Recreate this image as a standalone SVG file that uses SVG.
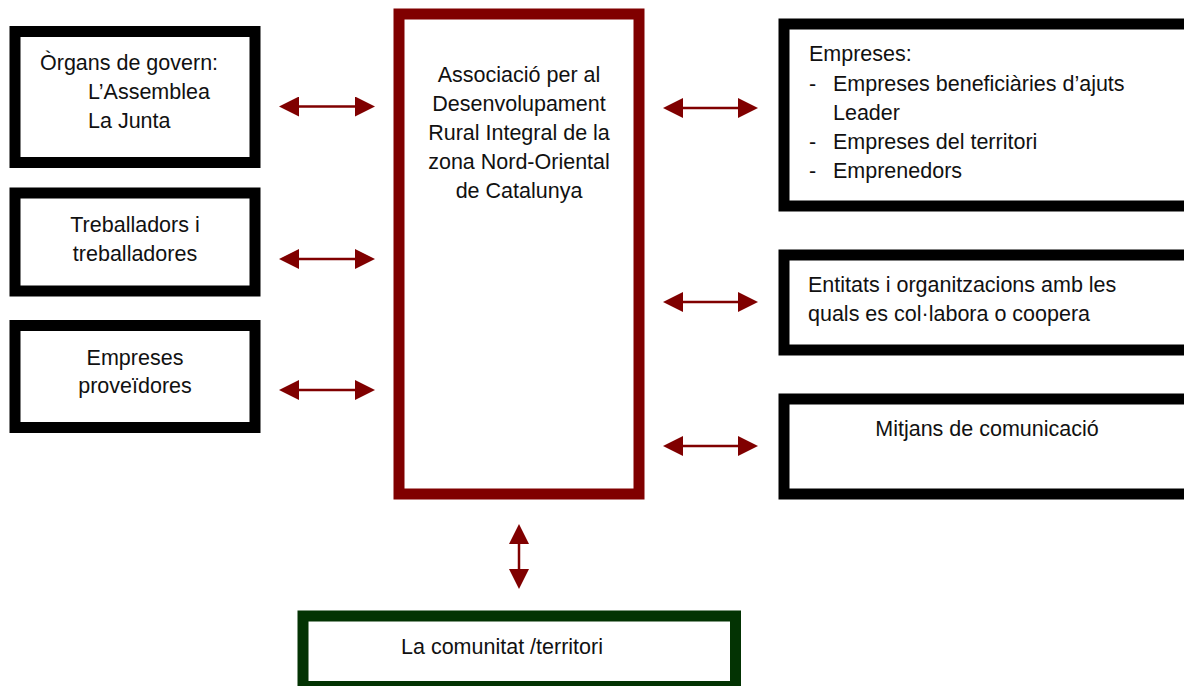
<svg xmlns="http://www.w3.org/2000/svg" width="1184" height="686" viewBox="0 0 1184 686">
<style>
  .box { fill: #ffffff; stroke: #000000; stroke-width: 11; }
  .main { fill: #ffffff; stroke: #800000; stroke-width: 11; }
  .green { fill: #ffffff; stroke: #033303; stroke-width: 11; }
  text { font-family: "Liberation Sans", Arial, sans-serif; font-size: 21.5px; fill: #111111; }
  .c { text-anchor: middle; }
  .arr { stroke: #800000; stroke-width: 2.5; fill: none; marker-start: url(#head); marker-end: url(#head); }
</style>
<defs>
  <marker id="head" markerUnits="userSpaceOnUse" markerWidth="20" markerHeight="20" refX="15" refY="10" orient="auto-start-reverse" viewBox="0 0 20 20">
    <path d="M0,0 L20,10 L0,20 Z" fill="#800000"/>
  </marker>
</defs>
<rect width="1184" height="686" fill="#ffffff"/>

<g id="connectors">
  <line class="arr" x1="284" y1="106.5" x2="370" y2="106.5"/>
  <line class="arr" x1="284" y1="259" x2="370" y2="259"/>
  <line class="arr" x1="284" y1="390" x2="370" y2="390"/>
  <line class="arr" x1="668" y1="108" x2="753" y2="108"/>
  <line class="arr" x1="668" y1="302" x2="753" y2="302"/>
  <line class="arr" x1="668" y1="446" x2="753" y2="446"/>
  <line class="arr" x1="519" y1="529" x2="519" y2="584"/>
</g>

<g id="organs">
  <rect class="box" x="15" y="31.5" width="240" height="131"/>
  <text x="40" y="69.5">Òrgans de govern:</text>
  <text x="88" y="99">L’Assemblea</text>
  <text x="88" y="128">La Junta</text>
</g>

<g id="treballadors">
  <rect class="box" x="15" y="193" width="240" height="98"/>
  <text class="c" x="135" y="231.5">Treballadors i</text>
  <text class="c" x="135" y="261">treballadores</text>
</g>

<g id="proveidores">
  <rect class="box" x="15" y="325.5" width="240" height="102"/>
  <text class="c" x="135" y="364.5">Empreses</text>
  <text class="c" x="135" y="393">proveïdores</text>
</g>

<g id="associacio">
  <rect class="main" x="399" y="14" width="240" height="480"/>
  <text class="c" x="519" y="82">Associació per al</text>
  <text class="c" x="519" y="111">Desenvolupament</text>
  <text class="c" x="519" y="140">Rural Integral de la</text>
  <text class="c" x="519" y="168.5">zona Nord-Oriental</text>
  <text class="c" x="519" y="197.5">de Catalunya</text>
</g>

<g id="empreses">
  <rect class="box" x="784" y="24" width="450" height="182"/>
  <text x="809" y="61">Empreses:</text>
  <text x="809" y="90.5">-</text>
  <text x="833" y="90.5">Empreses beneficiàries d’ajuts</text>
  <text x="833" y="119.5">Leader</text>
  <text x="809" y="148.5">-</text>
  <text x="833" y="148.5">Empreses del territori</text>
  <text x="809" y="177.5">-</text>
  <text x="833" y="177.5">Emprenedors</text>
</g>

<g id="entitats">
  <rect class="box" x="784" y="255" width="450" height="95"/>
  <text x="808" y="291.5">Entitats i organitzacions amb les</text>
  <text x="808" y="320.5">quals es col·labora o coopera</text>
</g>

<g id="mitjans">
  <rect class="box" x="784" y="399" width="450" height="95"/>
  <text class="c" x="987" y="436">Mitjans de comunicació</text>
</g>

<g id="comunitat">
  <rect class="green" x="303" y="616" width="432.5" height="70.5"/>
  <text class="c" x="502" y="654">La comunitat /territori</text>
</g>
</svg>
